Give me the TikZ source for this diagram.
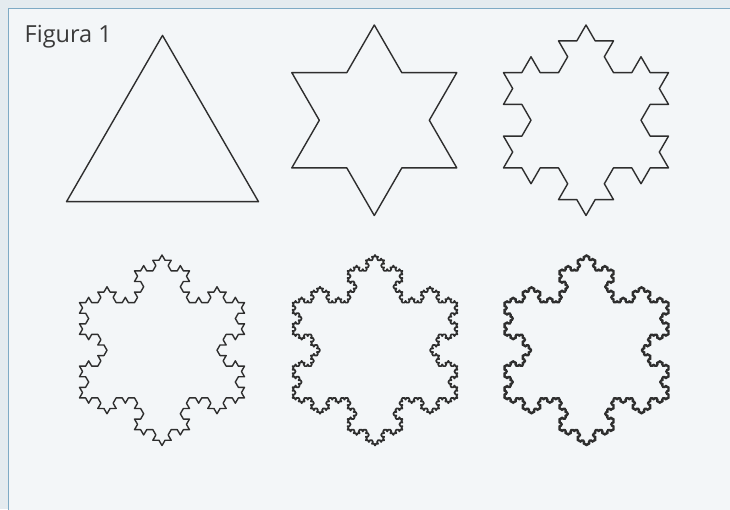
\documentclass[tikz,border=0pt]{standalone}
\usepackage{fontspec}
\setmainfont{Open Sans}
\usetikzlibrary{lindenmayersystems}
\pgfdeclarelindenmayersystem{kochflake}{
  \rule{F -> F-F++F-F}
}
\definecolor{outerbg}{HTML}{E4EBEF}
\definecolor{panelbg}{HTML}{F3F6F8}
\definecolor{panelline}{HTML}{7EAAC4}
\definecolor{ink}{HTML}{2E2E2E}
\definecolor{txt}{HTML}{3A3A3A}
\tikzset{
  flake/.style={draw=ink, line width=1.4pt, line join=round, line cap=round},
  thickflake/.style={flake, line width=1.7pt},
}
\begin{document}
\begin{tikzpicture}[x=1pt,y=1pt]
  \useasboundingbox (0,0) rectangle (730,509);
  \fill[outerbg] (0,0) rectangle (730,509);
  \fill[panelbg] (8.5,-2) rectangle (732,500.5);
  \draw[panelline, line width=1.5pt] (8.5,-2) -- (8.5,500.5) -- (732,500.5);
  \node[anchor=base west, inner sep=0pt, font=\fontsize{23.5}{28}\selectfont, text=txt] (title) at (24.5,466.3) {Figura 1};
  % iteration 0
  \begin{scope}[shift={(66.5,307.3)}]
    \draw[flake] l-system[l-system={kochflake, axiom=F++F++F, order=0, step=192pt, angle=60}];
  \end{scope}
  % iteration 1
  \begin{scope}[shift={(291.8,341.1)}]
    \draw[flake] l-system[l-system={kochflake, axiom=F++F++F, order=1, step=55pt, angle=60}];
  \end{scope}
  % iteration 2
  \begin{scope}[shift={(503.5,341.1)}]
    \draw[flake] l-system[l-system={kochflake, axiom=F++F++F, order=2, step=18.3333pt, angle=60}];
  \end{scope}
  % iteration 3
  \begin{scope}[shift={(79.5,111.1)}]
    \draw[flake] l-system[l-system={kochflake, axiom=F++F++F, order=3, step=6.1111pt, angle=60}];
  \end{scope}
  % iteration 4
  \begin{scope}[shift={(292.5,111.1)}]
    \draw[thickflake] l-system[l-system={kochflake, axiom=F++F++F, order=4, step=2.0370pt, angle=60}];
  \end{scope}
  % iteration 5
  \begin{scope}[shift={(504,111.1)}]
    \draw[thickflake] l-system[l-system={kochflake, axiom=F++F++F, order=5, step=0.6790pt, angle=60}];
  \end{scope}
\end{tikzpicture}
\end{document}
